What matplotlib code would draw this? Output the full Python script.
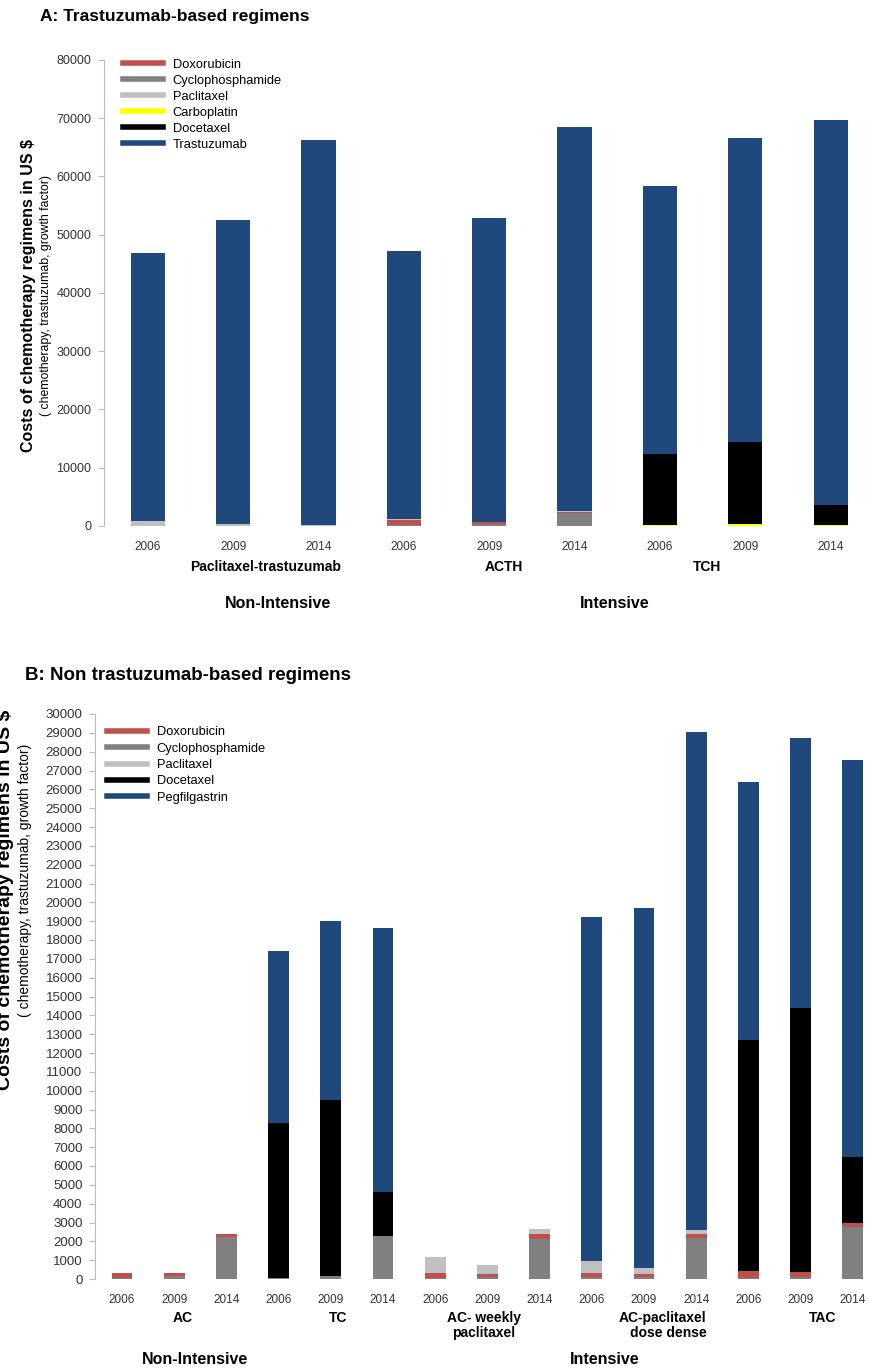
import matplotlib
matplotlib.use('Agg')
import matplotlib.pyplot as plt
from matplotlib.lines import Line2D
import numpy as np

plt.rcParams['font.family'] = ['Liberation Sans', 'DejaVu Sans']

# colours per drug
c_doxo = '#C0504D'
c_cyclo = '#808080'
c_pacli = '#C0C0C0'
c_carbo = '#FFFF00'
c_doce = '#000000'
c_tras = '#1F497D'

# ---------- panel A data ----------
years_a = ['2006', '2009', '2014'] * 3
regimens_a = ['Paclitaxel-trastuzumab', 'ACTH', 'TCH']
cyclo_a = [0, 0, 0, 150, 300, 2200, 0, 0, 0]
doxo_a = [0, 0, 0, 900, 350, 280, 0, 0, 0]
pacli_a = [800, 350, 150, 100, 50, 50, 0, 0, 0]
carbo_a = [0, 0, 0, 0, 0, 0, 100, 350, 230]
doce_a = [0, 0, 0, 0, 0, 0, 12250, 14050, 3450]
tras_a = [46000, 52150, 66050, 46000, 52150, 66050, 46000, 52150, 66050]

# ---------- panel B data ----------
years_b = ['2006', '2009', '2014'] * 5
regimens_b = ['AC', 'TC', 'AC- weekly\npaclitaxel', 'AC-paclitaxel\ndose dense', 'TAC']
cyclo_b = [50, 150, 2220, 50, 150, 2270, 30, 90, 2130, 90, 90, 2170, 50, 110, 2760]
doxo_b = [280, 150, 180, 0, 0, 0, 280, 200, 270, 230, 200, 230, 380, 270, 220]
pacli_b = [0, 0, 0, 0, 0, 0, 880, 430, 270, 630, 300, 180, 0, 0, 0]
doce_b = [0, 0, 0, 8250, 9350, 2350, 0, 0, 0, 0, 0, 0, 12270, 14020, 3520]
peg_b = [0, 0, 0, 9100, 9500, 14000, 0, 0, 0, 18250, 19110, 26470, 13700, 14300, 21050]

W, H = 869, 1369
fig = plt.figure(figsize=(W / 100, H / 100), dpi=100)


def px_axes(left, right, top, bottom):
    return fig.add_axes([left / W, 1 - bottom / H, (right - left) / W, (bottom - top) / H])


def style_axis(ax, fs):
    for s in ['top', 'right', 'bottom']:
        ax.spines[s].set_visible(False)
    ax.spines['left'].set_color('#BBBBBB')
    ax.tick_params(axis='y', colors='#BBBBBB', labelcolor='#333333', labelsize=fs,
                   length=4, width=0.8, pad=5)
    ax.tick_params(axis='x', length=0, labelsize=8.5, labelcolor='#333333', pad=11)


def stack(ax, x, layers, width):
    bottom = np.zeros(len(x))
    for vals, col in layers:
        vals = np.array(vals, dtype=float)
        ax.bar(x, vals, width, bottom=bottom, color=col, linewidth=0)
        bottom += vals


# ---------- panel A ----------
axA = px_axes(104, 869, 60, 526)
xa = np.arange(len(years_a))
stack(axA, xa, [(cyclo_a, c_cyclo), (doxo_a, c_doxo), (pacli_a, c_pacli),
                (carbo_a, c_carbo), (doce_a, c_doce), (tras_a, c_tras)], 0.40)
axA.set_xlim(-0.513, 8.45)
axA.set_ylim(0, 80000)
axA.set_yticks(range(0, 80001, 10000))
axA.set_xticks(xa)
axA.set_xticklabels(years_a)
style_axis(axA, 9)

labels_a = ['Doxorubicin', 'Cyclophosphamide', 'Paclitaxel', 'Carboplatin', 'Docetaxel', 'Trastuzumab']
cols_a = [c_doxo, c_cyclo, c_pacli, c_carbo, c_doce, c_tras]
handles = [Line2D([0], [0], color=c, lw=4) for c in cols_a]
axA.legend(handles, labels_a, loc='upper left', bbox_to_anchor=(0.025, 1.003), frameon=False,
           fontsize=9.3, handlelength=3.1, handletextpad=0.75, labelspacing=0.31,
           borderpad=0, borderaxespad=0)

tr = axA.get_xaxis_transform()
for x, lab in zip([1.38, 4.17, 6.55], regimens_a):
    axA.text(x, -0.087, lab, transform=tr, ha='center', va='center', fontsize=10, fontweight='bold')
axA.text(1.52, -0.166, 'Non-Intensive', transform=tr, ha='center', va='center', fontsize=11.5, fontweight='bold')
axA.text(5.47, -0.166, 'Intensive', transform=tr, ha='center', va='center', fontsize=11.5, fontweight='bold')

fig.text(40 / W, 1 - 17 / H, 'A: Trastuzumab-based regimens', fontsize=12.5, fontweight='bold', va='center')
fig.text(29 / W, 1 - 295 / H, 'Costs of chemotherapy regimens in US $', rotation=90,
         fontsize=11.5, fontweight='bold', ha='center', va='center')
fig.text(46 / W, 1 - 295 / H, '( chemotherapy, trastuzumab, growth factor)', rotation=90,
         fontsize=8.8, ha='center', va='center')

# ---------- panel B ----------
axB = px_axes(95, 869, 714, 1279)
xb = np.arange(len(years_b))
stack(axB, xb, [(cyclo_b, c_cyclo), (doxo_b, c_doxo), (pacli_b, c_pacli),
                (doce_b, c_doce), (peg_b, c_tras)], 0.40)
axB.set_xlim(-0.517, 14.31)
axB.set_ylim(0, 30000)
axB.set_yticks(range(0, 30001, 1000))
axB.set_xticks(xb)
axB.set_xticklabels(years_b)
style_axis(axB, 9.5)

labels_b = ['Doxorubicin', 'Cyclophosphamide', 'Paclitaxel', 'Docetaxel', 'Pegfilgastrin']
cols_b = [c_doxo, c_cyclo, c_pacli, c_doce, c_tras]
handles = [Line2D([0], [0], color=c, lw=4) for c in cols_b]
axB.legend(handles, labels_b, loc='upper left', bbox_to_anchor=(0.0155, 0.978), frameon=False,
           fontsize=9.3, handlelength=3.1, handletextpad=0.75, labelspacing=0.33,
           borderpad=0, borderaxespad=0)

tr = axB.get_xaxis_transform()
reg_x = [1.16, 4.14, 6.93, 10.36, 13.43]
aligns = ['center', 'center', 'center', 'right', 'center']
for x, lab, al in zip(reg_x, regimens_b, aligns):
    axB.text(x, -0.056, lab, transform=tr, ha='center', va='top', fontsize=10,
             fontweight='bold', multialignment=al, linespacing=1.1)
axB.text(1.39, -0.142, 'Non-Intensive', transform=tr, ha='center', va='center', fontsize=11.5, fontweight='bold')
axB.text(9.25, -0.142, 'Intensive', transform=tr, ha='center', va='center', fontsize=11.5, fontweight='bold')

fig.text(25 / W, 1 - 675 / H, 'B: Non trastuzumab-based regimens', fontsize=13.5, fontweight='bold', va='center')
fig.text(6 / W, 1 - 900 / H, 'Costs of chemotherapy regimens in US $', rotation=90,
         fontsize=14, fontweight='bold', ha='center', va='center')
fig.text(25 / W, 1 - 880 / H, '( chemotherapy, trastuzumab, growth factor)', rotation=90,
         fontsize=10, ha='center', va='center')

fig.savefig('out.png', dpi=100)
